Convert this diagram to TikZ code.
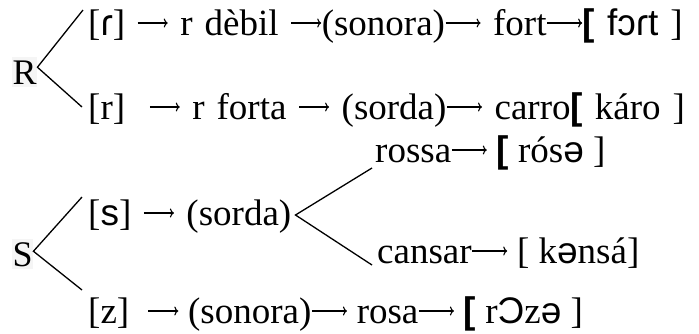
\documentclass[tikz,border=0pt]{standalone}
\usetikzlibrary{arrows.meta}
\usepackage{fontspec}
\setmainfont{Liberation Serif}
\newfontfamily\ipa{Liberation Sans}
\newcommand{\ipab}{\ipa\bfseries}
\newcommand{\widesp}{\spaceskip=1.3\fontdimen2\font plus 1pt\relax}
\newcommand{\arr}{\tikz[baseline=0pt]\draw[line width=1.1pt,-{To[length=4pt,width=9pt]}] (0pt,12pt) -- (30pt,12pt);}
\newcommand{\larr}{\tikz[baseline=0pt]\draw[line width=1.1pt,-{To[length=4pt,width=9pt]}] (0pt,12pt) -- (35pt,12pt);}

\begin{document}
\begin{tikzpicture}[x=1pt,y=-1pt]
\useasboundingbox (0,0) rectangle (699,333);
\begin{scope}[
    every node/.style={anchor=base west,inner sep=0pt,font=\fontsize{37}{42}\selectfont},
    letter/.style={fill=black!4,inner xsep=0.5pt,inner ysep=3pt,font=\fontsize{36}{40}\selectfont}]
    \node (R) at (12,84) [letter] {R};
    \node (S) at (12,266) [letter] {S};

    % R rows
    \node (tap) at (88,35) {\widesp[{\ipa ɾ}] \arr{} r dèbil \arr(sonora)\larr{} fort\larr{\ipab[} {\ipa fɔɾt} ]};
    \node (trill) at (88,119) {\widesp[r] \ \arr{} r forta \arr{} (sorda)\larr{} carro{\ipab[} káro ]};

    % S rows
    \node (sorda) at (88,225) {\widesp[{\ipa s}] \arr{} (sorda)};
    \node (rossa) at (375,162) {rossa\larr{} {\ipab[} rós{\ipa ə} ]};
    \node (cansar) at (377,263) {cansar\larr{} [ k{\ipa ə}nsá]};
    \node (rosa) at (88,323) {[z] \ \arr{} (sonora)\larr{} rosa\larr{} {\ipab[} r{\ipa Ɔ}z{\ipa ə} ]};
\end{scope}

% branch ends
\coordinate (Rup) at (83,10);
\coordinate (Rdown) at (82,107);
\coordinate (Sup) at (82,197);
\coordinate (Sdown) at (82,290);
\coordinate (sup) at (372,168);
\coordinate (sdown) at (372,265);

\begin{scope}[line width=1.3pt]
    \draw (Rup) -- ([yshift=5pt]R.east) -- (Rdown);
    \draw (Sup) -- ([yshift=3pt]S.east) -- (Sdown);
    \draw (sup) -- ([xshift=4pt,yshift=10pt]sorda.base east) -- (sdown);
\end{scope}
\end{tikzpicture}
\end{document}
